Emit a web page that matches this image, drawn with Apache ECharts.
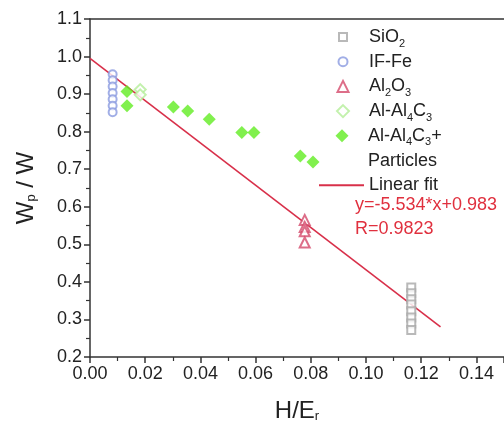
<!DOCTYPE html>
<html><head><meta charset="utf-8">
<script src="https://cdn.jsdelivr.net/npm/echarts@6/dist/echarts.min.js"></script>
<style>html,body{margin:0;padding:0;background:#fff}#c{width:504px;height:429px}</style>
</head><body><div id="c"></div>
<script>
// ---- data ----
const xTicks = [0, 0.02, 0.04, 0.06, 0.08, 0.10, 0.12, 0.14];
const yTicks = [0.2, 0.3, 0.4, 0.5, 0.6, 0.7, 0.8, 0.9, 1.0, 1.1];
const sio2X = [0.1164, 0.1164, 0.1164, 0.1164, 0.1164, 0.1164, 0.1164, 0.1164];
const sio2Y = [0.385, 0.370, 0.354, 0.340, 0.322, 0.305, 0.289, 0.272];
const ifFeX = [0.0082, 0.0082, 0.0082, 0.0082, 0.0082, 0.0082, 0.0082];
const ifFeY = [0.953, 0.937, 0.920, 0.903, 0.886, 0.869, 0.852];
const al2o3X = [0.0778, 0.0778, 0.0778, 0.0778];
const al2o3Y = [0.565, 0.546, 0.535, 0.505];
const alcX = [0.0182, 0.0182];
const alcY = [0.912, 0.898];
const alcpX = [0.0134, 0.0134, 0.0302, 0.0354, 0.0432, 0.0550, 0.0594, 0.0762, 0.0808];
const alcpY = [0.907, 0.869, 0.866, 0.855, 0.833, 0.798, 0.798, 0.735, 0.719];
const fitX = [0, 0.127];
const fitY = [0.995, 0.280];

const zip = (a, b) => a.map((v, i) => [v, b[i]]);
const FF = '"Liberation Sans", Arial, sans-serif';
const chart = echarts.init(document.getElementById('c'));

function mkRich(pad) {
  return {
    f: {fontSize: 18, fontFamily: FF, color: '#222', lineHeight: 24, padding: [0, 0, 0, pad]},
    n: {fontSize: 18, fontFamily: FF, color: '#222', lineHeight: 24},
    s: {fontSize: 11, fontFamily: FF, color: '#222', lineHeight: 6, verticalAlign: 'bottom'}
  };
}
const labels = {
  'SiO2': '{f|SiO}{s|2}',
  'IF-Fe': '{f|IF-Fe}',
  'Al2O3': '{f|Al}{s|2}{n|O}{s|3}',
  'Al-Al4C3': '{f|Al-Al}{s|4}{n|C}{s|3}',
  'Al-Al4C3+': '{f|Al-Al}{s|4}{n|C}{s|3}{n|+}',
  'Linear fit': '{f|Linear fit}'
};
// symbol legend: icon centered at x=342, text starts at x=368
function lg(name, center, size) {
  const left = 342 - size / 2;
  const pad = 368 - (left + size + 5);
  return {
    data: [name], orient: 'vertical', left: left, top: center - 12,
    itemWidth: size, itemHeight: size, padding: 0,
    textStyle: {rich: mkRich(pad)},
    formatter: (nm) => labels[nm]
  };
}
const c0 = 40, dc = 24.7;

chart.setOption({
  animation: false,
  backgroundColor: '#fff',
  grid: {left: 90, top: 19, right: -2, bottom: 72},
  legend: [
    lg('SiO2', c0, 8),
    lg('IF-Fe', c0 + dc, 9),
    lg('Al2O3', c0 + 2 * dc, 11),
    lg('Al-Al4C3', c0 + 3 * dc, 12),
    lg('Al-Al4C3+', c0 + 4 * dc, 13),
    {
      data: [{name: 'Linear fit', icon: 'rect'}], orient: 'vertical',
      left: 319, top: c0 + 6 * dc - 12, itemWidth: 45, itemHeight: 2, padding: 0,
      textStyle: {rich: mkRich(0)}, formatter: (nm) => labels[nm]
    }
  ],
  xAxis: [{
    type: 'value', min: 0, max: 0.15, interval: 0.02,
    name: 'H/E{sub|r}', nameLocation: 'middle', nameGap: 42,
    nameTextStyle: {fontSize: 24, fontFamily: FF, color: '#222',
      rich: {sub: {fontSize: 13, fontFamily: FF, color: '#222', verticalAlign: 'bottom', lineHeight: 8}}},
    axisLine: {show: true, lineStyle: {color: '#333', width: 1.5}},
    axisTick: {show: true, length: 6, lineStyle: {color: '#333', width: 1.5}},
    minorTick: {show: true, splitNumber: 2, length: 4, lineStyle: {color: '#333', width: 1.2}},
    splitLine: {show: false},
    axisLabel: {fontSize: 18, fontFamily: FF, color: '#222', margin: 8, showMaxLabel: false,
      formatter: v => xTicks.some(t => Math.abs(t - v) < 1e-9) ? v.toFixed(2) : ''}
  }, {
    type: 'value', position: 'top', min: 0, max: 0.15,
    axisLine: {show: true, lineStyle: {color: '#333', width: 1.5}},
    axisTick: {show: false}, axisLabel: {show: false}, splitLine: {show: false}
  }],
  yAxis: {
    type: 'value', min: 0.2, max: 1.1, interval: 0.1,
    name: 'W{sub|p} / W', nameLocation: 'middle', nameGap: 52,
    nameTextStyle: {fontSize: 24, fontFamily: FF, color: '#222',
      rich: {sub: {fontSize: 13, fontFamily: FF, color: '#222', verticalAlign: 'bottom', lineHeight: 8}}},
    axisLine: {show: true, lineStyle: {color: '#333', width: 1.5}},
    axisTick: {show: true, length: 6, lineStyle: {color: '#333', width: 1.5}},
    minorTick: {show: true, splitNumber: 2, length: 4, lineStyle: {color: '#333', width: 1.2}},
    splitLine: {show: false},
    axisLabel: {fontSize: 18, fontFamily: FF, color: '#222', margin: 8,
      formatter: v => v.toFixed(1)}
  },
  series: [
    {name: 'SiO2', type: 'scatter', symbol: 'emptyRect', symbolSize: 8,
     itemStyle: {color: '#a8a8a8', borderWidth: 1}, data: zip(sio2X, sio2Y)},
    {name: 'IF-Fe', type: 'scatter', symbol: 'emptyCircle', symbolSize: 8,
     itemStyle: {color: '#8a9ae0', borderWidth: 1}, data: zip(ifFeX, ifFeY)},
    {name: 'Al2O3', type: 'scatter', symbol: 'emptyTriangle', symbolSize: 10,
     itemStyle: {color: '#d44a6c', borderWidth: 1}, data: zip(al2o3X, al2o3Y)},
    {name: 'Al-Al4C3', type: 'scatter', symbol: 'emptyDiamond', symbolSize: 11,
     itemStyle: {color: '#b4ee98', borderWidth: 1}, data: zip(alcX, alcY)},
    {name: 'Al-Al4C3+', type: 'scatter', symbol: 'diamond', symbolSize: 13,
     itemStyle: {color: '#62ec22'}, data: zip(alcpX, alcpY)},
    {name: 'Linear fit', type: 'line', showSymbol: false, symbol: 'none',
     lineStyle: {color: '#d8304a', width: 1.6}, itemStyle: {color: '#d8304a'},
     data: zip(fitX, fitY), z: 1}
  ],
  graphic: [
    {type: 'text', left: 368, top: c0 + 5 * dc - 11,
     style: {text: 'Particles', fontSize: 18, fontFamily: FF, fill: '#222'}},
    {type: 'text', left: 355, top: 196,
     style: {text: 'y=-5.534*x+0.983', fontSize: 18, fontFamily: FF, fill: '#e0303e'}},
    {type: 'text', left: 355, top: 220,
     style: {text: 'R=0.9823', fontSize: 18, fontFamily: FF, fill: '#e0303e'}}
  ]
});
</script></body></html>
